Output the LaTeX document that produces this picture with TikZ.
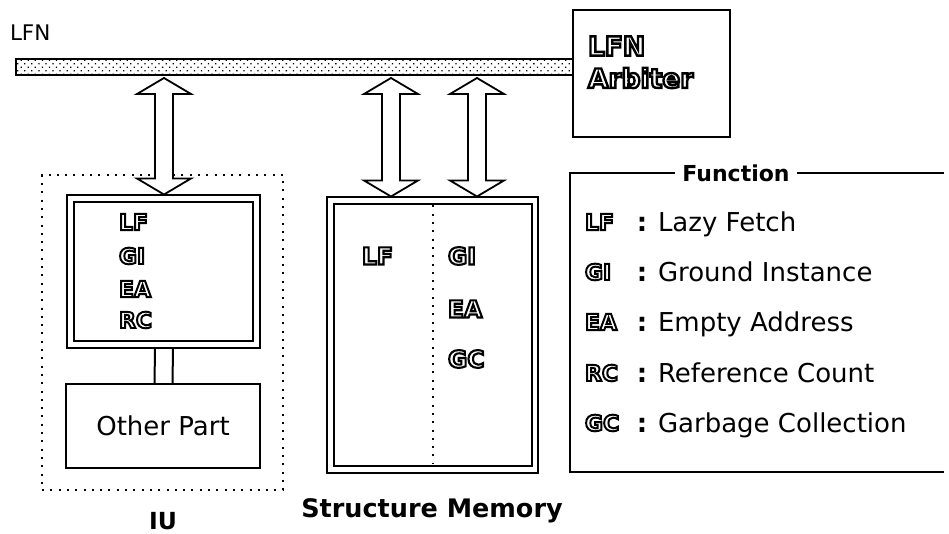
\documentclass[tikz,border=0pt]{standalone}
\usepackage{fontspec}
\setmainfont{DejaVu Sans}
\newfontfamily\olfont[FakeBold=9]{DejaVu Sans Bold}
\usetikzlibrary{calc,patterns.meta}
\newcommand{\outl}[1]{{\special{pdf:bcolor [1] [0]}\olfont #1\special{pdf:ecolor}}}
\newcommand{\dblarrow}[4]{%
  \draw[blockarrow] let \p1=(#2), \p2=(#3) in
    (#1pt,\y1-3pt) -- (#1pt+27pt,\y1-19pt) -- (#1pt+9pt,\y1-19pt)
    -- (#1pt+9pt,\y2+#4pt+16pt) -- (#1pt+27pt,\y2+#4pt+16pt) -- (#1pt,\y2+#4pt)
    -- (#1pt-27pt,\y2+#4pt+16pt) -- (#1pt-9pt,\y2+#4pt+16pt)
    -- (#1pt-9pt,\y1-19pt) -- (#1pt-27pt,\y1-19pt) -- cycle;}
\begin{document}
\begin{tikzpicture}[x=1pt,y=1pt,
  every node/.style={inner sep=0pt, outer sep=0pt},
  reg/.style={font=\fontsize{26}{30}\selectfont},
  lbl/.style={font=\fontsize{21.5}{24}\selectfont},
  ttl/.style={font=\bfseries\fontsize{24}{28}\selectfont},
  outl/.style={anchor=west, font=\fontsize{22}{24}\selectfont},
  outlbig/.style={anchor=west, font=\fontsize{23.5}{26}\selectfont},
  colon/.style={anchor=base, font=\bfseries\fontsize{26}{30}\selectfont},
  solidbox/.style={draw, line width=2pt},
  dblbox/.style={draw, double, double distance=4.5pt, line width=1.8pt},
  blockarrow/.style={draw, fill=white, line width=1.8pt, line join=miter},
  dotline/.style={draw, line width=2pt, dash pattern=on 2pt off 6.3pt},
  wire/.style={line width=2pt}
]
\useasboundingbox (0,0) rectangle (949,534);

% LFN bus and arbiter
\node[lbl, anchor=west] (lfn) at (10,501) {LFN};
\node[draw, line width=1.5pt, pattern={Dots[distance=5pt,radius=0.9pt,angle=45]},
      minimum width=557pt, minimum height=16pt] (bus) at (294.5,467) {};
\node[draw, line width=1.5pt, minimum width=157pt, minimum height=127pt] (arb) at (651.5,460.5) {};
\node[anchor=west, font=\fontsize{26.5}{28}\selectfont] (arbA) at (588,488) {\outl{LFN}};
\node[anchor=west, font=\fontsize{26.5}{28}\selectfont] (arbB) at (588,456) {\outl{Arbiter}};

% IU
\node[dotline, minimum width=241pt, minimum height=315pt] (iu) at (162.5,201.5) {};
\node[dblbox, minimum width=186pt, minimum height=146pt] (iup) at (163.5,262.5) {};
\node[outl] (iuLF) at (119,312) {\outl{LF}};
\node[outl] (iuGI) at (119,278) {\outl{GI}};
\node[outl] (iuEA) at (119,245) {\outl{EA}};
\node[outl] (iuRC) at (119,214) {\outl{RC}};
\node[solidbox, reg, minimum width=194pt, minimum height=84pt] (oth) at (163,108) {Other Part};
\draw[wire] ($(iup.south)+(-8.5,-4)$) -- ($(oth.north)+(-8.5,0)$);
\draw[wire] ($(iup.south)+(9.5,-4)$) -- ($(oth.north)+(9.5,0)$);
\node[ttl, font=\bfseries\fontsize{23.5}{26}\selectfont, anchor=base] (iut) at (163,4) {IU};

% Structure Memory
\node[dblbox, minimum width=204.5pt, minimum height=269pt] (sm) at (432.75,199) {};
\draw[dotline] ($(sm.north)+(0,-5)$) -- ($(sm.south)+(0,5)$);
\node[outlbig] (smLF) at (362,278) {\outl{LF}};
\node[outlbig] (smGI) at (448,278) {\outl{GI}};
\node[outlbig] (smEA) at (448,225) {\outl{EA}};
\node[outlbig] (smGC) at (448,175) {\outl{GC}};
\node[ttl, font=\bfseries\fontsize{25.5}{28}\selectfont, anchor=base] (smt) at (432,16) {Structure Memory};

% arrows
\dblarrow{164}{bus.south}{iup.north}{4}
\dblarrow{391}{bus.south}{sm.north}{4}
\dblarrow{477}{bus.south}{sm.north}{4}

% Function legend
\draw[line width=1.5pt] (944,361) -- (570,361) -- (570,62) -- (944,62);
\node[ttl, font=\bfseries\fontsize{22}{26}\selectfont, fill=white, inner xsep=7pt, inner ysep=3pt] (ftitle) at (736,361) {Function};

\node[outl] (fLF) at (585,312) {\outl{LF}};
\node[colon] (cLF) at (642,302) {:};
\node[reg, anchor=base west] (dLF) at (658,302) {Lazy Fetch};

\node[outl] (fGI) at (585,262) {\outl{GI}};
\node[colon] (cGI) at (642,252) {:};
\node[reg, anchor=base west] (dGI) at (658,252) {Ground Instance};

\node[outl] (fEA) at (585,212) {\outl{EA}};
\node[colon] (cEA) at (642,202) {:};
\node[reg, anchor=base west] (dEA) at (658,202) {Empty Address};

\node[outl] (fRC) at (585,161) {\outl{RC}};
\node[colon] (cRC) at (642,151) {:};
\node[reg, anchor=base west] (dRC) at (658,151) {Reference Count};

\node[outl] (fGC) at (585,111) {\outl{GC}};
\node[colon] (cGC) at (642,101) {:};
\node[reg, anchor=base west] (dGC) at (658,101) {Garbage Collection};
\end{tikzpicture}
\end{document}
